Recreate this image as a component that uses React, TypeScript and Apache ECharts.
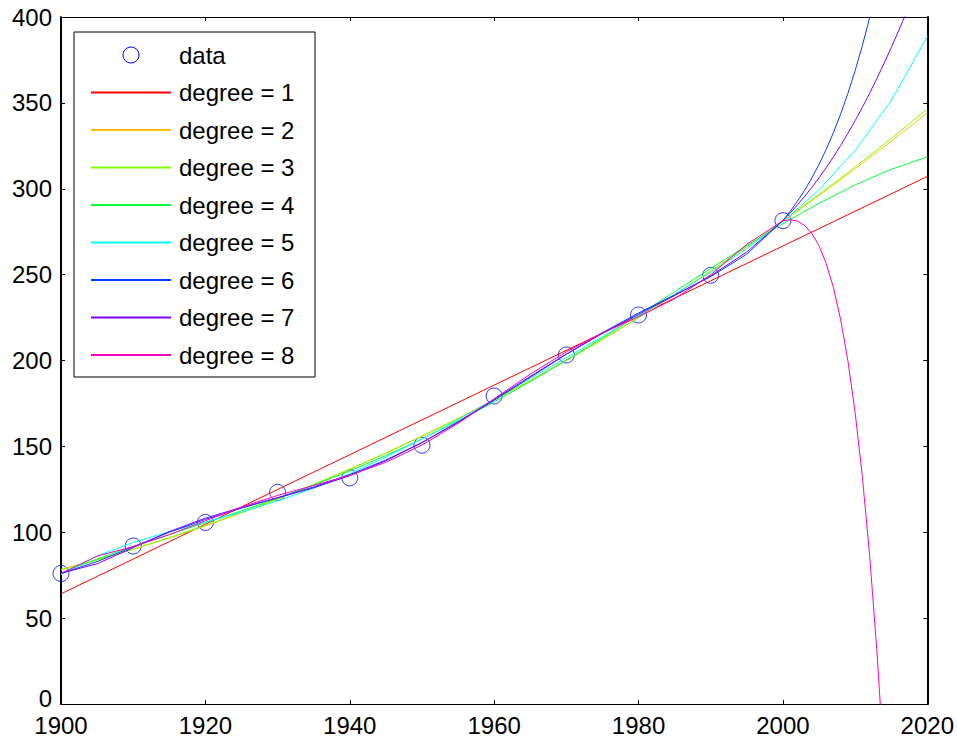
import React, { useEffect, useRef } from "react";
import * as echarts from "echarts";

// Census data (millions)
const censusYears = [1900, 1910, 1920, 1930, 1940, 1950, 1960, 1970, 1980, 1990, 2000];
const censusPop = [75.995, 91.972, 105.711, 123.203, 131.669, 150.697, 179.323, 203.212, 226.505, 249.633, 281.422];

// Grids on which the fitted curves were read
const fitYears = [1900, 1905, 1910, 1915, 1920, 1925, 1930, 1935, 1940, 1945, 1950, 1955, 1960, 1965, 1970, 1975, 1980, 1985, 1990, 1995, 2000, 2005, 2010, 2015, 2020];
const fineYears = [1900, 1905, 1910, 1915, 1920, 1925, 1930, 1935, 1940, 1945, 1950, 1955, 1960, 1965, 1970, 1975, 1980, 1985, 1990, 1995, 2000,
  2001, 2002, 2003, 2004, 2005, 2006, 2007, 2008, 2009, 2010, 2011, 2012, 2013, 2014, 2015, 2016, 2017, 2018, 2019, 2020];

const deg1 = [64.13, 74.26, 84.38, 94.51, 104.64, 114.76, 124.89, 135.02, 145.14, 155.27, 165.39, 175.52, 185.65, 195.77, 205.9, 216.03, 226.15, 236.28, 246.41, 256.53, 266.66, 276.79, 286.91, 297.04, 307.17];
const deg2 = [78.37, 83.99, 90.07, 96.65, 103.69, 111.2, 119.2, 127.66, 136.6, 146.02, 155.91, 166.27, 177.11, 188.42, 200.21, 212.47, 225.21, 238.42, 252.1, 266.26, 280.9, 296.01, 311.59, 327.65, 344.18];
const deg3 = [78.01, 83.88, 90.14, 96.85, 103.96, 111.49, 119.48, 127.9, 136.77, 146.11, 155.91, 166.18, 176.94, 188.18, 199.93, 212.18, 224.94, 238.22, 252.03, 266.37, 281.26, 296.7, 312.69, 329.25, 346.39];
const deg4 = [76.4, 84.42, 91.75, 98.73, 105.57, 112.5, 119.75, 127.43, 135.7, 144.64, 154.3, 164.71, 175.87, 187.71, 200.2, 213.19, 226.55, 240.1, 253.64, 266.91, 279.65, 291.54, 302.23, 311.35, 318.5];
const deg5 = [75.24, 86.18, 94.06, 100.32, 105.96, 111.73, 118.21, 125.63, 134.16, 143.76, 154.3, 165.59, 177.41, 189.51, 201.74, 213.96, 226.16, 238.51, 251.33, 265.15, 280.81, 299.38, 322.29, 351.33, 388.7];
const deg6 = [76.03, 82.93, 91.54, 99.99, 107.48, 114.01, 120.1, 126.37, 133.53, 142.06, 152.2, 163.89, 176.78, 190.25, 203.63, 216.24, 227.68, 238.18, 248.81, 261.9, 281.6,
  286.83, 292.64, 299.09, 306.24, 314.18, 322.99, 332.75, 343.57, 355.53, 368.75, 383.33, 399.4, 417.07];
const deg7 = [76.14, 81.64, 91.03, 100.4, 108.21, 114.48, 120.06, 125.89, 132.91, 141.64, 152.2, 164.31, 177.4, 190.73, 203.67, 215.77, 226.95, 237.78, 249.32, 263.19, 281.49,
  285.87, 290.53, 295.49, 300.77, 306.37, 312.3, 318.6, 325.24, 332.26, 339.65, 347.41, 355.55, 364.06, 372.93, 382.15, 391.71, 401.59];
const deg8 = [76.04, 86.1, 91.66, 98.56, 106.73, 114.66, 121.44, 127.22, 133.19, 140.73, 150.78, 163.4, 177.68, 192.06, 205.05, 215.95, 225.47, 235.94, 249.95, 267.65, 281.39,
  281.94, 281.15, 278.65, 274.03, 266.81, 256.45, 242.32, 223.7, 199.81, 169.75, 132.52, 86.99, 31.93, -34.02];

const fitNames = ["degree = 1", "degree = 2", "degree = 3", "degree = 4", "degree = 5", "degree = 6", "degree = 7", "degree = 8"];
const fitColors = ["#ff0000", "#ffbf00", "#80ff00", "#00ff40", "#00ffff", "#0040ff", "#8000ff", "#ff00bf"];
const fitValues = [deg1, deg2, deg3, deg4, deg5, deg6, deg7, deg8];
const fitGrids = [fitYears, fitYears, fitYears, fitYears, fitYears, fineYears, fineYears, fineYears];

const xTicks = { min: 1900, max: 2020, interval: 20 };
const yTicks = { min: 0, max: 400, interval: 50 };

const FONT = "'Liberation Sans', Arial, Helvetica, sans-serif";

export default function App() {
  const ref = useRef<HTMLDivElement>(null);
  useEffect(() => {
    if (!ref.current) return;
    const chart = echarts.init(ref.current, null, { renderer: "svg" });
    const L = 61, R = 928, T = 17, B = 704;
    const axisCommon = (width: number) => ({
      axisLine: { show: true, onZero: false, lineStyle: { color: "#000", width } },
      axisTick: { show: true, inside: true, length: 4, lineStyle: { color: "#000", width: 1 } },
      splitLine: { show: false },
      axisLabel: { show: false },
    });
    const labelStyle = { color: "#000", fontSize: 24, fontFamily: FONT, lineHeight: 18 };
    const lineSeries = fitNames.map((name, i) => ({
      name,
      type: "line",
      data: fitValues[i].map((v, j) => [fitGrids[i][j], v]),
      symbol: "none",
      clip: true,
      lineStyle: { color: fitColors[i], width: 1 },
      itemStyle: { color: fitColors[i] },
      z: 3,
    }));
    chart.setOption({
      animation: false,
      backgroundColor: "#fff",
      grid: { left: L, top: T, width: R - L, height: B - T, containLabel: false },
      xAxis: [
        { type: "value", ...xTicks, position: "bottom", ...axisCommon(1), axisLabel: { ...labelStyle, margin: 12, formatter: (v: number) => String(v) } },
        { type: "value", ...xTicks, position: "top", ...axisCommon(1) },
      ],
      yAxis: [
        {
          type: "value", ...yTicks, position: "left", ...axisCommon(2),
          axisLabel: {
            ...labelStyle, margin: 9,
            formatter: (v: number) => (v === 0 ? "{z|0}" : String(v)),
            rich: { z: { color: "#000", fontSize: 24, fontFamily: FONT, lineHeight: 18, padding: [0, 0, 11, 0] } },
          },
        },
        { type: "value", ...yTicks, position: "right", ...axisCommon(2) },
      ],
      legend: {
        orient: "vertical",
        left: 90,
        top: 43,
        padding: 0,
        itemWidth: 80,
        itemHeight: 16,
        itemGap: 13.5,
        textStyle: { color: "#000", fontSize: 24, fontFamily: FONT, lineHeight: 24, padding: [0, 0, 0, 3] },
        data: [
          { name: "data", icon: "circle", itemStyle: { color: "rgba(0,0,0,0)", borderColor: "#0000ff", borderWidth: 1, opacity: 1 } },
          ...fitNames.map((n) => ({ name: n, itemStyle: { opacity: 0 } })),
        ],
        selectedMode: false,
        z: 10,
      },
      graphic: [
        {
          type: "rect",
          shape: { x: 74, y: 32, width: 241, height: 345 },
          style: { fill: "#fff", stroke: "#000", lineWidth: 1 },
          z: 5,
        },
      ],
      series: [
        {
          name: "data",
          type: "scatter",
          data: censusYears.map((y, i) => [y, censusPop[i]]),
          symbol: "circle",
          symbolSize: 16,
          itemStyle: { color: "rgba(0,0,0,0)", borderColor: "#0000ff", borderWidth: 1 },
          z: 2,
        },
        ...lineSeries,
      ],
    });
    return () => chart.dispose();
  }, []);
  return <div ref={ref} style={{ position: "absolute", left: 0, top: 0, width: 957, height: 739 }} />;
}
